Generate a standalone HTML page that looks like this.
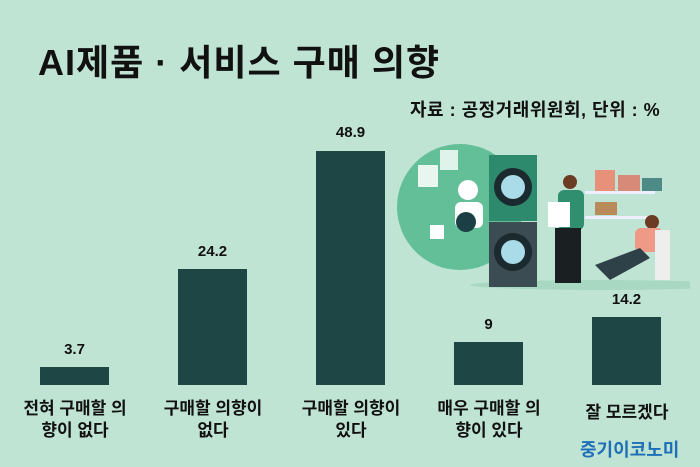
<!DOCTYPE html>
<html><head><meta charset="utf-8"><style>
body{margin:0;width:700px;height:467px;background:#c0e4d4;position:relative;overflow:hidden;font-family:"Liberation Sans","Noto Sans CJK KR",sans-serif;}
.t{position:absolute;white-space:nowrap;color:#111;font-weight:bold;}
.bar{position:absolute;background:#1d4645;width:69px;}
.v{position:absolute;width:69px;text-align:center;font-weight:bold;font-size:15px;color:#111;}
.c{position:absolute;width:138px;text-align:center;font-weight:bold;font-size:17px;line-height:22px;color:#111;}
</style></head><body>
<div class="t" style="left:38px;top:34px;font-size:36px;letter-spacing:1px;">AI제품 · 서비스 구매 의향</div>
<div class="t" style="left:410px;top:96px;font-size:18px;letter-spacing:0.5px;">자료 : 공정거래위원회, 단위 : %</div>

<svg style="position:absolute;left:390px;top:130px" width="300" height="170">
<circle cx="70" cy="77" r="63" fill="#63bf97"/>
<rect x="50" y="20" width="18" height="20" fill="#dff3ea"/><rect x="28" y="35" width="20" height="22" fill="#e9f5ef"/>
<circle cx="78" cy="60" r="10" fill="#fff"/><rect x="65" y="72" width="28" height="26" rx="6" fill="#fff"/>
<circle cx="76" cy="92" r="10" fill="#1c3f45"/><rect x="40" y="95" width="14" height="14" fill="#fff"/>
<ellipse cx="210" cy="155" rx="130" ry="5" fill="#a8d8c2"/>
<rect x="99" y="25" width="48" height="66" fill="#2e8a6c"/><circle cx="123" cy="57" r="19" fill="#1b2a2e"/><circle cx="123" cy="57" r="12" fill="#a9dbe9"/>
<rect x="99" y="92" width="48" height="65" fill="#3b4c52"/><circle cx="123" cy="122" r="19" fill="#1b2a2e"/><circle cx="123" cy="122" r="12" fill="#a9dbe9"/>
<circle cx="180" cy="52" r="7" fill="#6b3b24"/><rect x="168" y="60" width="26" height="40" rx="6" fill="#2f8f6e"/>
<rect x="158" y="72" width="22" height="25" fill="#fff"/><rect x="165" y="98" width="26" height="55" fill="#1a1f22"/>
<rect x="195" y="61" width="70" height="3" fill="#eef"/><rect x="195" y="86" width="70" height="3" fill="#eef"/>
<rect x="205" y="40" width="20" height="21" fill="#e7917a"/><rect x="228" y="45" width="22" height="16" fill="#d88a78"/><rect x="252" y="48" width="20" height="13" fill="#4f8b86"/>
<rect x="205" y="72" width="22" height="13" fill="#b98a5a"/>
<circle cx="262" cy="92" r="7" fill="#6b3b24"/><rect x="245" y="98" width="28" height="24" rx="6" fill="#ef9a86"/>
<rect x="265" y="100" width="15" height="50" fill="#eee"/><path d="M205 135 L250 118 L260 128 L220 150 Z" fill="#2f4148"/>
</svg>

<div class="bar" style="left:40px;top:367px;height:18px"></div>
<div class="bar" style="left:178px;top:269px;height:116px"></div>
<div class="bar" style="left:316px;top:151px;height:234px"></div>
<div class="bar" style="left:454px;top:342px;height:43px"></div>
<div class="bar" style="left:592px;top:317px;height:68px"></div>
<div class="v" style="left:40px;top:341px">3.7</div>
<div class="v" style="left:178px;top:243px">24.2</div>
<div class="v" style="left:316px;top:124px">48.9</div>
<div class="v" style="left:454px;top:316px">9</div>
<div class="v" style="left:592px;top:291px">14.2</div>
<div class="c" style="left:6px;top:398px">전혀 구매할 의<br>향이 없다</div>
<div class="c" style="left:144px;top:398px">구매할 의향이<br>없다</div>
<div class="c" style="left:282px;top:398px">구매할 의향이<br>있다</div>
<div class="c" style="left:420px;top:398px">매우 구매할 의<br>향이 있다</div>
<div class="c" style="left:558px;top:402px">잘 모르겠다</div>
<div class="t" style="left:580px;top:436px;font-size:18px;color:#1e6fb8;">중기이코노미</div>
</body></html>
